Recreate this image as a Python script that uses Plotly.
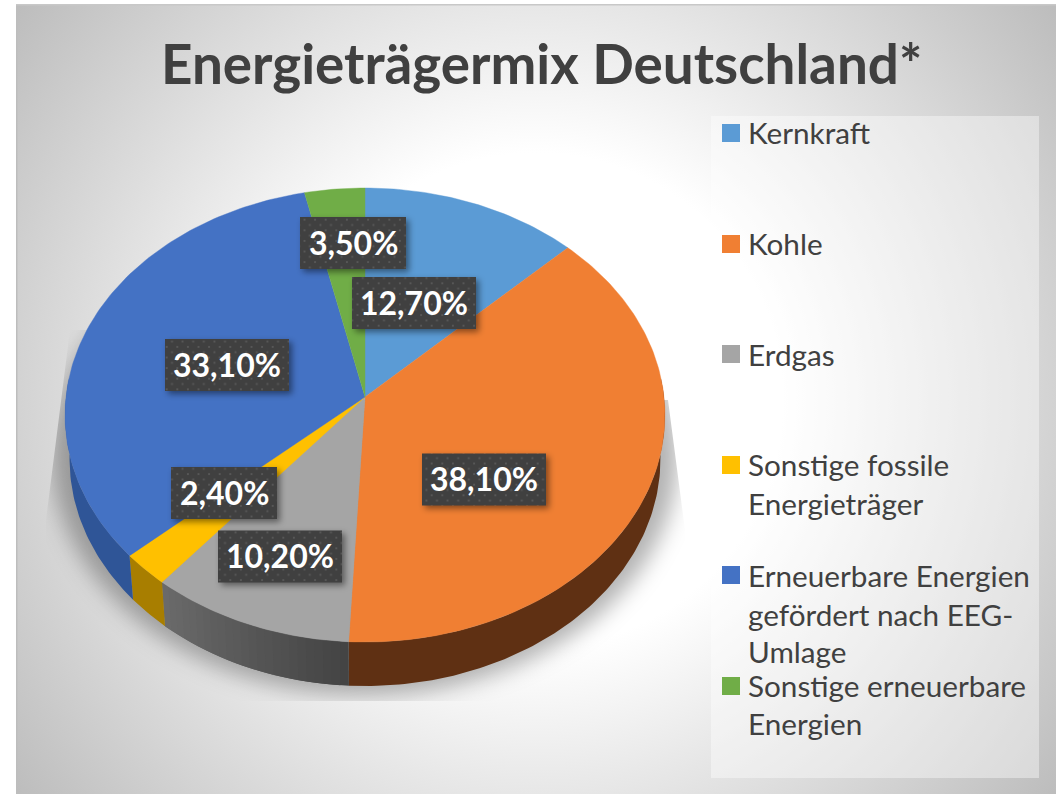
import base64
import math
import plotly.graph_objects as go

title = "Energieträgermix Deutschland*"
categories = ["Kernkraft", "Kohle", "Erdgas", "Sonstige fossile Energieträger",
              "Erneuerbare Energien gefördert nach EEG-Umlage",
              "Sonstige erneuerbare Energien"]
values = [12.7, 38.1, 10.2, 2.4, 33.1, 3.5]
legend_lines = [["Kernkraft"], ["Kohle"], ["Erdgas"],
                ["Sonstige fossile", "Energieträger"],
                ["Erneuerbare Energien", "gefördert nach EEG-", "Umlage"],
                ["Sonstige erneuerbare", "Energien"]]
top_colors = ["#5b9bd5", "#f07f33", "#a5a5a5", "#ffc000", "#4472c4", "#70ad47"]
side_from = ["#3a6d9c", "#5f3013", "#6b6b6b", "#a87e00", "#2f5597", "#4e7a31"]
side_to = ["#3a6d9c", "#5f3013", "#434343", "#a87e00", "#2f5597", "#4e7a31"]

W, H = 1056, 794
CX, CY = 365, 397
A, B, K = 299.0, 225.6, 0.0793
DEPTH, SHRINK = 44, 0.985
FONT = "Lato"
TEXT = "#404040"

label_centers = [(414, 302), (484, 478.5), (280, 555.5), (224, 492), (227, 364), (353, 242)]
box_centers = [(414, 303), (484, 479.5), (280, 556.5), (224, 493), (227, 365), (353, 243)]
legend_y = [[132], [243], [354], [464, 503], [575, 614, 651], [685, 723]]
swatch_y = [133, 244, 354, 465, 575, 686]
FRONT_FROM, FRONT_TO = math.radians(85), math.radians(275)


def rim(theta):
    u, v = math.sin(theta), math.cos(theta)
    w = 1 + K * v
    return CX + A * u / w, CY - B * v / w


def lower(p):
    return CX + (p[0] - CX) * SHRINK, p[1] + DEPTH


def arc(a0, a1):
    n = max(2, int(abs(a1 - a0) / math.radians(1)) + 1)
    return [rim(a0 + (a1 - a0) * i / n) for i in range(n + 1)]


def mix(c0, c1, t):
    a = [int(c0[i:i + 2], 16) for i in (1, 3, 5)]
    b = [int(c1[i:i + 2], 16) for i in (1, 3, 5)]
    return "#%02x%02x%02x" % tuple(round(p + (q - p) * t) for p, q in zip(a, b))


def svg_uri(body):
    svg = f'<svg xmlns="http://www.w3.org/2000/svg" width="{W}" height="{H}" viewBox="0 0 {W} {H}">{body}</svg>'
    return "data:image/svg+xml;base64," + base64.b64encode(svg.encode()).decode()


def full_image(source, layer):
    return dict(source=source, xref="paper", yref="paper", x=0, y=1, sizex=1, sizey=1,
                xanchor="left", yanchor="top", sizing="stretch", layer=layer)


background = svg_uri(f'''
<defs>
<radialGradient id="g" gradientUnits="userSpaceOnUse" cx="536" cy="400" r="650">
<stop offset="0" stop-color="#fff"/><stop offset="0.38" stop-color="#fff"/>
<stop offset="1" stop-color="#bdbdbd"/></radialGradient>
<filter id="b" x="-20%" y="-20%" width="140%" height="140%"><feGaussianBlur stdDeviation="11"/></filter>
<clipPath id="c"><polygon points="70,330 300,330 300,400 668,400 685,530 685,701 46,701 46,520"/></clipPath>
</defs>
<rect x="16" y="4" width="1040" height="790" fill="url(#g)"/>
<rect x="16" y="4" width="1.5" height="790" fill="#bdbdbd"/>
<rect x="16" y="4" width="1040" height="1.5" fill="#c8c8c8"/>
<rect x="711" y="116" width="328" height="662" fill="#fff" fill-opacity="0.4"/>
<g clip-path="url(#c)"><ellipse cx="365" cy="455" rx="313" ry="240" fill="#000" fill-opacity="0.30" filter="url(#b)"/></g>
''')

boxes = ""
for (cx, cy), v in zip(box_centers, values):
    w = 124 if v >= 10 else 106
    x, y = cx - w / 2, cy - 26
    boxes += (f'<rect x="{x}" y="{y}" width="{w}" height="52" fill="#000" fill-opacity="0.45" filter="url(#s)"/>'
              f'<rect x="{x}" y="{y}" width="{w}" height="52" fill="url(#p)"/>')
overlay = svg_uri(f'''
<defs>
<pattern id="p" patternUnits="userSpaceOnUse" width="10.6" height="10.6">
<rect width="10.6" height="10.6" fill="#404040"/>
<rect x="1.5" y="1.5" width="1.8" height="1.8" fill="#5a5a5a"/>
<rect x="6.8" y="6.8" width="1.8" height="1.8" fill="#5a5a5a"/>
</pattern>
<filter id="s" x="-20%" y="-20%" width="150%" height="150%"><feOffset dx="3" dy="3"/><feGaussianBlur stdDeviation="3"/></filter>
</defs>{boxes}''')

fig = go.Figure()

edges = [0.0]
for v in values:
    edges.append(edges[-1] + v / sum(values) * 2 * math.pi)

# Sides first: only the front of the drum can be seen.
for i, cat in enumerate(categories):
    a0, a1 = max(edges[i], FRONT_FROM), min(edges[i + 1], FRONT_TO)
    if a1 <= a0:
        continue
    strips = 24 if side_from[i] != side_to[i] else 1
    for s in range(strips):
        b0 = a0 + (a1 - a0) * s / strips
        # each strip runs on under the next one, so no seams show between them
        b1 = min(a1, a0 + (a1 - a0) * (s + 2) / strips)
        upper = arc(b0, b1)
        poly = upper + [lower(p) for p in reversed(upper)]
        poly.append(poly[0])
        col = mix(side_to[i], side_from[i], (s + 0.5) / strips)
        fig.add_trace(go.Scatter(x=[p[0] for p in poly], y=[p[1] for p in poly],
                                 mode="lines", fill="toself", fillcolor=col,
                                 line=dict(width=0),
                                 hoverinfo="skip", showlegend=False))

for i, cat in enumerate(categories):
    poly = [(CX, CY)] + arc(edges[i], edges[i + 1]) + [(CX, CY)]
    fig.add_trace(go.Scatter(x=[p[0] for p in poly], y=[p[1] for p in poly],
                             mode="lines", fill="toself", fillcolor=top_colors[i],
                             line=dict(color=top_colors[i], width=0.4),
                             name=cat, text=f"{values[i]:.2f}%".replace(".", ","),
                             hoverinfo="name+text", showlegend=False))

fig.add_trace(go.Scatter(x=[731] * len(categories), y=swatch_y, mode="markers",
                         marker=dict(symbol="square", size=18, color=top_colors, line=dict(width=0)),
                         text=categories, hoverinfo="text", showlegend=False))

annotations = []
for lines, ys in zip(legend_lines, legend_y):
    for line, y in zip(lines, ys):
        annotations.append(dict(x=746, y=y, xref="x", yref="y", text=line, showarrow=False,
                                xanchor="left", yanchor="middle",
                                font=dict(family=FONT, size=29.7, color=TEXT)))
for (cx, cy), v in zip(label_centers, values):
    annotations.append(dict(x=cx, y=cy, xref="x", yref="y",
                            text=f"<b>{v:.2f}%</b>".replace(".", ","), showarrow=False,
                            font=dict(family=FONT, size=32, color="#ffffff")))
annotations.append(dict(x=541, y=63, xref="x", yref="y", text=f"<b>{title}</b>", showarrow=False,
                        font=dict(family=FONT, size=54.8, color=TEXT)))

fig.update_layout(
    width=W, height=H, margin=dict(l=0, r=0, t=0, b=0),
    paper_bgcolor="#ffffff", plot_bgcolor="rgba(0,0,0,0)",
    xaxis=dict(range=[0, W], visible=False, fixedrange=True),
    yaxis=dict(range=[H, 0], visible=False, fixedrange=True),
    images=[full_image(background, "below"), full_image(overlay, "above")],
    annotations=annotations, showlegend=False,
)
fig.write_html("out.html", config={"displayModeBar": False},
               post_script="document.body.style.margin='0';document.body.style.overflow='hidden';")
